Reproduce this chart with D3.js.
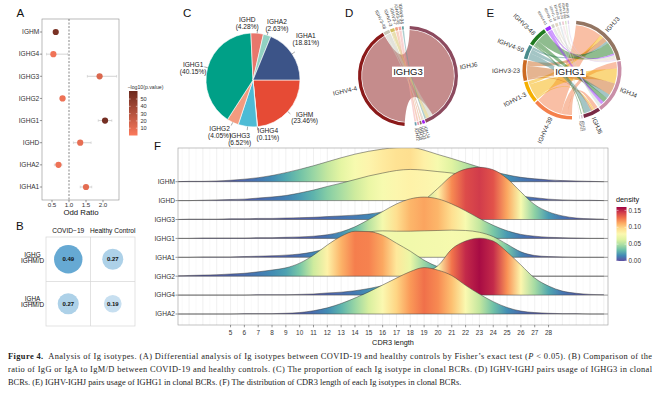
<!DOCTYPE html>
<html><head><meta charset="utf-8">
<script src="https://cdn.jsdelivr.net/npm/d3@7"></script>
<style>body{margin:0;background:#fff} svg{display:block;font-family:"Liberation Sans",Arial,sans-serif}</style>
</head><body><svg id="c" width="660" height="396"></svg>
<script>
// ---------------- DATA ----------------
// Panel A
const isotypesA = ["IGHM","IGHG4","IGHG3","IGHG2","IGHG1","IGHD","IGHA2","IGHA1"];
const oddRatio  = [0.61,0.54,1.90,0.81,2.06,1.33,0.69,1.50];
const ciLow     = [0.58,0.34,1.54,0.74,1.86,1.13,0.57,1.33];
const ciHigh    = [0.64,0.96,2.40,0.88,2.26,1.65,0.79,1.67];
const negLogP   = [55,5,14,6,57,9,6,10];
const oddTicks  = [0.5,1.0,1.5,2.0];
const pLegendTicks = [10,20,30,40,50];
// Panel B
const ratioRows = ["IGHG","IGHA"];
const ratioCols = ["COVID\u221219","Healthy Control"];
const ratioValues = [[0.49,0.27],[0.27,0.19]];
// Panel C
const pieLabels  = ["IGHM","IGHG4","IGHG3","IGHG2","IGHG1","IGHD","IGHA2","IGHA1"];
const piePercent = [23.46,0.11,6.52,4.05,40.15,4.28,2.63,18.81];
const pieColors  = ["#E64B35","#8491B4","#4DBBD5","#F39B7F","#00A087","#E8776C","#91D1C2","#3C5488"];
// Panel D (IGHG3)
const dJGenes = ["IGHJ6","IGHJ4","IGHJ3","IGHJ5","IGHJ2"];
const dVGenes = ["IGHV4-4","IGHV3-48","IGHV1-3","IGHV3-7","IGHV3-30","IGHV4-34"];
const dLinks = [["IGHV4-4","IGHJ6",143],["IGHV3-48","IGHJ6",5],["IGHV3-48","IGHJ4",2],
  ["IGHV1-3","IGHJ6",4],["IGHV1-3","IGHJ3",1],["IGHV3-7","IGHJ5",2],["IGHV3-7","IGHJ4",1],
  ["IGHV3-30","IGHJ2",2],["IGHV3-30","IGHJ3",1],["IGHV4-34","IGHJ6",2]];
const dColors = {"IGHJ6":"#8C4A5E","IGHJ4":"#A020F0","IGHJ3":"#8B6F60","IGHJ5":"#E8A0B0","IGHJ2":"#6A9FB0",
  "IGHV4-4":"#8B1A1A","IGHV3-48":"#C8C8B8","IGHV1-3":"#D4C060","IGHV3-7":"#F0A080","IGHV3-30":"#F4A4A4","IGHV4-34":"#5F9EA0"};
// Panel E (IGHG1)
const eJGenes = ["IGHJ3","IGHJ4","IGHJ6","IGHJ5","IGHJ2"];
const eVGenes = ["IGHV4-39","IGHV1-3","IGHV3-23","IGHV4-59","IGHV3-48","IGHV4-61","IGHV3-11","IGHV1-18","IGHV3-21","IGHV3-74","IGHV1-69","IGHV3-15"];
const eLinks = [["IGHV4-39","IGHJ3",32],["IGHV4-39","IGHJ4",8],["IGHV4-39","IGHJ6",5],
  ["IGHV1-3","IGHJ4",18],["IGHV1-3","IGHJ3",4],["IGHV1-3","IGHJ6",2],
  ["IGHV3-23","IGHJ4",15],["IGHV3-23","IGHJ3",6],["IGHV3-23","IGHJ6",2],
  ["IGHV4-59","IGHJ6",8],["IGHV4-59","IGHJ4",5],["IGHV4-59","IGHJ3",3],
  ["IGHV3-48","IGHJ3",14],["IGHV3-48","IGHJ4",6],["IGHV3-48","IGHJ6",1],["IGHV3-48","IGHJ5",1],
  ["IGHV4-61","IGHJ4",4],["IGHV4-61","IGHJ3",2],["IGHV3-11","IGHJ3",2],["IGHV3-11","IGHJ4",1],
  ["IGHV1-18","IGHJ3",2],["IGHV1-18","IGHJ6",1],["IGHV3-21","IGHJ4",2],
  ["IGHV3-74","IGHJ3",1.5],["IGHV3-74","IGHJ2",0.5],["IGHV1-69","IGHJ4",1],["IGHV1-69","IGHJ5",0.5],
  ["IGHV3-15","IGHJ3",1.5]];
const eColors = {"IGHJ3":"#937562","IGHJ4":"#C98FA8","IGHJ6":"#7A2A45","IGHJ5":"#D8C0D0","IGHJ2":"#BBBBBB",
  "IGHV4-39":"#F4804C","IGHV1-3":"#F5B000","IGHV3-23":"#CC6A22","IGHV4-59":"#4A8C8C","IGHV3-48":"#1F7A1F",
  "IGHV4-61":"#9B30FF","IGHV3-11":"#D0D0C8","IGHV1-18":"#E0D6C0","IGHV3-21":"#C8D6DC","IGHV3-74":"#F0CCD6",
  "IGHV1-69":"#D4E6C4","IGHV3-15":"#DCCCEE"};
// Panel F
const ridgeNames = ["IGHM","IGHD","IGHG3","IGHG1","IGHA1","IGHG2","IGHG4","IGHA2"];
const cdr3Lengths = [1,2,3,4,5,6,7,8,9,10,11,12,13,14,15,16,17,18,19,20,21,22,23,24,25,26,27,28,29,30,31,32];
const densIGHM  = [0.000,0.001,0.001,0.002,0.004,0.007,0.011,0.017,0.025,0.034,0.044,0.055,0.066,0.076,0.084,0.090,0.094,0.095,0.087,0.075,0.064,0.052,0.040,0.028,0.019,0.012,0.008,0.005,0.003,0.002,0.001,0.000];
const densIGHD  = [0.000,0.000,0.001,0.002,0.003,0.004,0.007,0.010,0.014,0.021,0.029,0.039,0.048,0.058,0.068,0.076,0.083,0.086,0.084,0.080,0.076,0.069,0.055,0.039,0.023,0.013,0.008,0.004,0.002,0.001,0.001,0.000];
const densIGHG3 = [0.000,0.001,0.001,0.001,0.002,0.002,0.003,0.003,0.004,0.005,0.006,0.008,0.010,0.012,0.015,0.021,0.028,0.039,0.054,0.086,0.121,0.139,0.144,0.137,0.113,0.076,0.041,0.021,0.010,0.004,0.002,0.001];
const densIGHG1 = [0.000,0.000,0.001,0.001,0.001,0.001,0.002,0.002,0.003,0.004,0.006,0.010,0.018,0.032,0.052,0.074,0.095,0.109,0.114,0.109,0.095,0.076,0.055,0.036,0.021,0.011,0.006,0.003,0.002,0.001,0.000,0.000];
const densIGHA1 = [0.000,0.000,0.001,0.001,0.001,0.002,0.003,0.004,0.006,0.009,0.015,0.026,0.044,0.062,0.070,0.073,0.072,0.072,0.073,0.074,0.075,0.074,0.069,0.057,0.036,0.015,0.005,0.002,0.001,0.000,0.000,0.000];
const densIGHG2 = [0.001,0.002,0.003,0.004,0.006,0.008,0.012,0.017,0.023,0.036,0.058,0.086,0.110,0.124,0.123,0.113,0.091,0.069,0.044,0.026,0.015,0.009,0.005,0.003,0.001,0.001,0.000,0.000,0.000,0.000,0.000,0.000];
const densIGHG4 = [0.000,0.000,0.000,0.000,0.000,0.000,0.001,0.001,0.001,0.002,0.003,0.006,0.008,0.012,0.018,0.026,0.036,0.050,0.063,0.081,0.127,0.149,0.157,0.149,0.119,0.083,0.047,0.025,0.011,0.005,0.002,0.001];
const densIGHA2 = [0.000,0.000,0.000,0.000,0.000,0.001,0.001,0.001,0.002,0.004,0.009,0.017,0.029,0.044,0.061,0.080,0.099,0.117,0.128,0.121,0.106,0.079,0.055,0.034,0.018,0.008,0.004,0.002,0.001,0.001,0.000,0.000];
const cdr3Ticks = [5,6,7,8,9,10,11,12,13,14,15,16,17,18,19,20,21,22,23,24,25,26,27,28];
const densityTicks = [0.00,0.05,0.10,0.15];

// ---------------- DRAW ----------------
const svg = d3.select("#c");
svg.append("rect").attr("width",660).attr("height",396).attr("fill","#fff");
const ink = "#333";

[["A",16.5,16.7],["B",16,230],["C",183,16.7],["D",345,16.7],["E",486.5,16.7],["F",154,150]].forEach(([t,x,y])=>
  svg.append("text").attr("x",x).attr("y",y).attr("font-size",11.5).attr("fill","#111").text(t));

// ===== Panel A =====
(function(){
  const g = svg.append("g");
  const x = d3.scaleLinear().domain([0.5,2.0]).range([52,103]);
  const y = d3.scalePoint().domain(isotypesA).range([32,187]);
  const col = d3.scaleLinear().domain([0,61]).range(["#fc7a5c","#6c2a1f"]);
  g.append("rect").attr("x",42).attr("y",19).attr("width",77).attr("height",181)
    .attr("fill","#fff").attr("stroke","#8c8c8c").attr("stroke-width",0.6);
  g.append("line").attr("x1",x(1)).attr("x2",x(1)).attr("y1",19).attr("y2",200)
    .attr("stroke","#555").attr("stroke-width",0.7).attr("stroke-dasharray","2,1.5");
  isotypesA.forEach((k,i)=>{
    const yy = y(k);
    g.append("line").attr("x1",x(ciLow[i])).attr("x2",x(ciHigh[i])).attr("y1",yy).attr("y2",yy)
      .attr("stroke","#c8c8c8").attr("stroke-width",0.8);
    [ciLow[i],ciHigh[i]].forEach(v=>g.append("line").attr("x1",x(v)).attr("x2",x(v)).attr("y1",yy-1.3).attr("y2",yy+1.3)
      .attr("stroke","#c8c8c8").attr("stroke-width",0.6));
    g.append("circle").attr("cx",x(oddRatio[i])).attr("cy",yy).attr("r",3.1).attr("fill",col(negLogP[i]));
    g.append("line").attr("x1",39.8).attr("x2",42).attr("y1",yy).attr("y2",yy).attr("stroke",ink).attr("stroke-width",0.5);
    g.append("text").attr("x",39.3).attr("y",yy).attr("dy","0.35em").attr("text-anchor","end")
      .attr("font-size",6.6).attr("fill",ink).text(k);
  });
  oddTicks.forEach(v=>{
    g.append("line").attr("x1",x(v)).attr("x2",x(v)).attr("y1",200).attr("y2",202.2).attr("stroke",ink).attr("stroke-width",0.5);
    g.append("text").attr("x",x(v)).attr("y",207.3).attr("text-anchor","middle").attr("font-size",6.2).attr("fill",ink).text(v.toFixed(1));
  });
  g.append("text").attr("x",81).attr("y",215).attr("text-anchor","middle").attr("font-size",7.8).attr("fill","#111").text("Odd Ratio");
  // legend
  const ly = d3.scaleLinear().domain([0,61]).range([135.5,91]);
  const grad = svg.append("defs").append("linearGradient").attr("id","gA").attr("x1",0).attr("x2",0).attr("y1",1).attr("y2",0);
  [0,0.25,0.5,0.75,1].forEach(t=>grad.append("stop").attr("offset",t).attr("stop-color",col(61*t)));
  g.append("text").attr("x",127.5).attr("y",88.5).attr("font-size",5.2).attr("fill",ink).text("\u2212log10(p.value)");
  g.append("rect").attr("x",129).attr("y",ly(61)).attr("width",8.5).attr("height",ly(0)-ly(61)).attr("fill","url(#gA)");
  pLegendTicks.forEach(v=>{
    g.append("line").attr("x1",129).attr("x2",130.6).attr("y1",ly(v)).attr("y2",ly(v)).attr("stroke","#fff").attr("stroke-width",0.5);
    g.append("line").attr("x1",135.9).attr("x2",137.5).attr("y1",ly(v)).attr("y2",ly(v)).attr("stroke","#fff").attr("stroke-width",0.5);
    g.append("text").attr("x",140.5).attr("y",ly(v)).attr("dy","0.35em").attr("font-size",5.6).attr("fill",ink).text(v);
  });
})();

// ===== Panel B =====
(function(){
  const g = svg.append("g");
  const cx = d3.scaleBand().domain(ratioCols).range([46,135]);
  const cy = d3.scaleBand().domain(ratioRows).range([237,326]);
  const r = d3.scaleSqrt().domain([0,0.49]).range([0,14.2]);
  const col = d3.scaleLinear().domain([0.19,0.49]).range(["#c7dff0","#66a9d3"]);
  g.append("rect").attr("x",46).attr("y",237).attr("width",89).attr("height",89).attr("fill","#fff").attr("stroke","#d6d6d6").attr("stroke-width",0.7);
  g.append("line").attr("x1",cx(ratioCols[1])).attr("x2",cx(ratioCols[1])).attr("y1",237).attr("y2",326).attr("stroke","#d6d6d6").attr("stroke-width",0.7);
  g.append("line").attr("y1",cy(ratioRows[1])).attr("y2",cy(ratioRows[1])).attr("x1",46).attr("x2",135).attr("stroke","#d6d6d6").attr("stroke-width",0.7);
  ratioCols.forEach(c=>g.append("text").attr("x",cx(c)+cx.bandwidth()/2).attr("y",233).attr("text-anchor","middle")
    .attr("font-size",6.6).attr("fill","#111").text(c));
  ratioRows.forEach((rw,i)=>{
    const yc = cy(rw)+cy.bandwidth()/2;
    g.append("text").attr("x",32.5).attr("y",yc-2.6).attr("text-anchor","middle").attr("font-size",6.4).attr("fill","#111").text(rw);
    g.append("line").attr("x1",25.5).attr("x2",39.5).attr("y1",yc-1.7).attr("y2",yc-1.7).attr("stroke","#111").attr("stroke-width",0.5);
    g.append("text").attr("x",32.5).attr("y",yc+3.6).attr("text-anchor","middle").attr("font-size",6.4).attr("fill","#111").text("IGHM/D");
    ratioCols.forEach((c,j)=>{
      const v = ratioValues[i][j];
      const xc = cx(c)+cx.bandwidth()/2;
      g.append("circle").attr("cx",xc).attr("cy",yc).attr("r",r(v)).attr("fill",col(v));
      g.append("text").attr("x",xc).attr("y",yc).attr("dy","0.35em").attr("text-anchor","middle")
        .attr("font-size",6).attr("font-weight","bold").attr("fill","#111").text(v.toFixed(2));
    });
  });
})();

// ===== Panel C =====
(function(){
  const g = svg.append("g").attr("transform","translate(253,80)");
  const R = 47;
  const arcs = d3.pie().sort(null).value(d=>d).startAngle(Math.PI/2).endAngle(Math.PI/2+2*Math.PI)(piePercent);
  const arc = d3.arc().innerRadius(0).outerRadius(R);
  g.selectAll("path").data(arcs).join("path").attr("d",arc).attr("fill",(d,i)=>pieColors[i])
    .attr("stroke","#fff").attr("stroke-width",0.6);
  // label layout: angle nudge (deg) and radius
  const nudge = {IGHM:[-6,64],IGHG4:[-10,56],IGHG3:[6,61],IGHG2:[7,62],IGHG1:[-4,61],IGHD:[-11,57],IGHA2:[6,60],IGHA1:[-4,67]};
  arcs.forEach((d,i)=>{
    const mid = (d.startAngle+d.endAngle)/2;
    const [dn, rr] = nudge[pieLabels[i]];
    const a = mid + dn*Math.PI/180;
    const px = rr*Math.sin(a), py = -rr*Math.cos(a);
    g.append("line").attr("x1",R*Math.sin(mid)).attr("y1",-R*Math.cos(mid))
      .attr("x2",(R+3.5)*Math.sin(mid)).attr("y2",-(R+3.5)*Math.cos(mid)).attr("stroke","#555").attr("stroke-width",0.5);
    g.append("text").attr("x",px).attr("y",py-1.2).attr("text-anchor","middle").attr("font-size",6.6).attr("fill","#222").text(pieLabels[i]);
    g.append("text").attr("x",px).attr("y",py+5.6).attr("text-anchor","middle").attr("font-size",6.6).attr("fill","#222").text("("+piePercent[i].toFixed(2)+"%)");
  });
})();

// ===== Chord panels =====
function drawChord(o){
  const g = svg.append("g").attr("transform",`translate(${o.cx},${o.cy})`);
  const size = {};
  [...o.j, ...o.v].forEach(s=>size[s]=0);
  o.links.forEach(([v,j,val])=>{size[v]+=val; size[j]+=val;});
  const total = d3.sum(Object.values(size));
  const gaps = o.small*(o.j.length-1+o.v.length-1)+o.gapJV+o.gapVJ;
  const ang = d3.scaleLinear().domain([0,total]).range([0,360-gaps]);
  const sec = {};
  let a = o.start;
  o.j.forEach((s,i)=>{sec[s]={s:a,e:a+ang(size[s])}; sec[s].cur=a; a=sec[s].e+(i<o.j.length-1?o.small:o.gapJV);});
  o.v.forEach((s,i)=>{sec[s]={s:a,e:a+ang(size[s])}; sec[s].cur=a; a=sec[s].e+o.small;});
  const seg = o.links.map(l=>({v:l[0],j:l[1],val:l[2]}));
  const vI = s=>o.v.indexOf(s), jI = s=>o.j.indexOf(s);
  o.j.forEach(j=>seg.filter(d=>d.j===j).sort((p,q)=>vI(p.v)-vI(q.v)).forEach(d=>{d.t0=sec[j].cur; sec[j].cur+=ang(d.val); d.t1=sec[j].cur;}));
  o.v.forEach(v=>seg.filter(d=>d.v===v).sort((p,q)=>jI(q.j)-jI(p.j)).forEach(d=>{d.s0=sec[v].cur; sec[v].cur+=ang(d.val); d.s1=sec[v].cur;}));
  const rad = Math.PI/180;
  const ribbon = d3.ribbon().radius(o.rRib);
  seg.forEach(d=>{
    g.append("path").attr("d",ribbon({source:{startAngle:d.s0*rad,endAngle:d.s1*rad},target:{startAngle:d.t0*rad,endAngle:d.t1*rad}}))
      .attr("fill",o.colors[d.v]).attr("fill-opacity",0.5);
  });
  const arc = d3.arc().innerRadius(o.rOut-o.thick).outerRadius(o.rOut);
  Object.keys(sec).forEach(s=>{
    g.append("path").attr("d",arc({startAngle:sec[s].s*rad,endAngle:sec[s].e*rad})).attr("fill",o.colors[s]);
    const m = (sec[s].s+sec[s].e)/2;
    const rr = o.rOut+2.5;
    const px = rr*Math.sin(m*rad), py = -rr*Math.cos(m*rad);
    const right = (m%360) < 180;
    const rot = right ? m-90 : m+90;
    const fs = (sec[s].e-sec[s].s) < 9 ? o.fsSmall : o.fs;
    g.append("text").attr("transform",`translate(${px},${py}) rotate(${rot})`).attr("dy","0.35em")
      .attr("text-anchor", right ? "start":"end").attr("font-size",fs).attr("fill","#333").text(s);
  });
  const t = g.append("text").attr("x",o.lx).attr("y",o.ly).attr("dy","0.35em").attr("text-anchor","middle")
    .attr("font-size",9.5).attr("fill","#111").text(o.center);
  const bb = t.node().getBBox();
  g.insert("rect", () => t.node()).attr("x",bb.x-1.2).attr("y",bb.y+0.3).attr("width",bb.width+2.4).attr("height",bb.height-0.6).attr("fill","#fff");
}
drawChord({cx:408,cy:76,rOut:50,thick:3.3,rRib:46,j:dJGenes,v:dVGenes,links:dLinks,colors:dColors,
  start:2,small:1,gapJV:12,gapVJ:7,center:"IGHG3",lx:0,ly:-4,fs:6.3,fsSmall:4.6});
drawChord({cx:572,cy:70,rOut:49.5,thick:3.6,rRib:45,j:eJGenes,v:eVGenes,links:eLinks,colors:eColors,
  start:5,small:1.5,gapJV:9,gapVJ:8.5,center:"IGHG1",lx:-2,ly:2,fs:6.3,fsSmall:3.5});

// ===== Panel F =====
(function(){
  const dens = {IGHM:densIGHM,IGHD:densIGHD,IGHG3:densIGHG3,IGHG1:densIGHG1,IGHA1:densIGHA1,IGHG2:densIGHG2,IGHG4:densIGHG4,IGHA2:densIGHA2};
  const x = d3.scaleLinear().domain([1.2,32.3]).range([178,608]);
  const y = d3.scalePoint().domain(ridgeNames).range([181.7,314]);
  const h = d3.scaleLinear().domain([0,0.16]).range([0,58]);
  const col = d3.scaleSequential(t=>d3.interpolateSpectral(1-t)).domain([0,0.16]);
  const g = svg.append("g");
  const defs = svg.append("defs");
  defs.append("clipPath").attr("id","fclip").append("rect").attr("x",178).attr("y",148).attr("width",430).attr("height",177);
  g.append("rect").attr("x",178).attr("y",148).attr("width",430).attr("height",177).attr("fill","#fff");
  const gridMinor = d3.range(1.5,32.5,1), gridMajor = d3.range(2,33,1);
  gridMinor.forEach(v=>g.append("line").attr("x1",x(v)).attr("x2",x(v)).attr("y1",148).attr("y2",325).attr("stroke","#f3f3f3").attr("stroke-width",0.5));
  gridMajor.forEach(v=>g.append("line").attr("x1",x(v)).attr("x2",x(v)).attr("y1",148).attr("y2",325).attr("stroke","#e6e6e6").attr("stroke-width",0.6));
  const pg = g.append("g").attr("clip-path","url(#fclip)");
  ridgeNames.forEach((name,k)=>{
    const base = y(name);
    const pts = cdr3Lengths.map((v,i)=>[v,dens[name][i]]);
    const gr = defs.append("linearGradient").attr("id","gr"+k).attr("gradientUnits","userSpaceOnUse")
      .attr("x1",x(cdr3Lengths[0])).attr("x2",x(cdr3Lengths[cdr3Lengths.length-1])).attr("y1",0).attr("y2",0);
    pts.forEach(([v,d])=>gr.append("stop").attr("offset",(v-cdr3Lengths[0])/(cdr3Lengths[cdr3Lengths.length-1]-cdr3Lengths[0])).attr("stop-color",col(d)));
    const area = d3.area().x(d=>x(d[0])).y0(base).y1(d=>base-h(d[1])).curve(d3.curveMonotoneX);
    const line = d3.line().x(d=>x(d[0])).y(d=>base-h(d[1])).curve(d3.curveMonotoneX);
    pg.append("path").attr("d",area(pts)).attr("fill",`url(#gr${k})`);
    pg.append("path").attr("d",line(pts)).attr("fill","none").attr("stroke","#3c3c3c").attr("stroke-width",0.5);
    pg.append("line").attr("x1",178).attr("x2",608).attr("y1",base).attr("y2",base).attr("stroke","#444").attr("stroke-width",0.55);
    g.append("line").attr("x1",175.5).attr("x2",178).attr("y1",base).attr("y2",base).attr("stroke",ink).attr("stroke-width",0.5);
    g.append("text").attr("x",175).attr("y",base).attr("dy","0.35em").attr("text-anchor","end").attr("font-size",6.6).attr("fill",ink).text(name);
  });
  g.append("rect").attr("x",178).attr("y",148).attr("width",430).attr("height",177).attr("fill","none").attr("stroke","#9a9a9a").attr("stroke-width",0.6);
  cdr3Ticks.forEach(v=>{
    g.append("line").attr("x1",x(v)).attr("x2",x(v)).attr("y1",325).attr("y2",327.3).attr("stroke",ink).attr("stroke-width",0.5);
    g.append("text").attr("x",x(v)).attr("y",334.8).attr("text-anchor","middle").attr("font-size",6.4).attr("fill",ink).text(v);
  });
  g.append("text").attr("x",393).attr("y",344.5).attr("text-anchor","middle").attr("font-size",7.3).attr("fill","#111").text("CDR3 length");
  // legend
  const ly = d3.scaleLinear().domain([0,0.16]).range([261,207]);
  const lg = defs.append("linearGradient").attr("id","gF").attr("x1",0).attr("x2",0).attr("y1",1).attr("y2",0);
  d3.range(0,1.0001,0.1).forEach(t=>lg.append("stop").attr("offset",t).attr("stop-color",col(0.16*t)));
  g.append("text").attr("x",616).attr("y",202).attr("font-size",7.3).attr("fill","#111").text("density");
  g.append("rect").attr("x",616.5).attr("y",207).attr("width",10).attr("height",54).attr("fill","url(#gF)");
  densityTicks.forEach(v=>{
    g.append("line").attr("x1",616.5).attr("x2",618.5).attr("y1",ly(v)).attr("y2",ly(v)).attr("stroke","#fff").attr("stroke-width",0.5);
    g.append("line").attr("x1",624.5).attr("x2",626.5).attr("y1",ly(v)).attr("y2",ly(v)).attr("stroke","#fff").attr("stroke-width",0.5);
    g.append("text").attr("x",628.5).attr("y",ly(v)).attr("dy","0.35em").attr("font-size",6.4).attr("fill",ink).text(v.toFixed(2));
  });
})();

// ===== Caption =====
(function(){
  const cf = "Liberation Serif, Times New Roman, serif";
  const t1 = svg.append("text").attr("x",8).attr("y",359).attr("font-family",cf).attr("font-size",8.4).attr("fill","#222")
    .attr("textLength",644).attr("lengthAdjust","spacing");
  t1.append("tspan").attr("font-weight","bold").text("Figure 4.");
  t1.append("tspan").text("\u2002Analysis of Ig isotypes. (A) Differential analysis of Ig isotypes between COVID-19 and healthy controls by Fisher\u2019s exact test (");
  t1.append("tspan").attr("font-style","italic").text("P");
  t1.append("tspan").text(" < 0.05). (B) Comparison of the");
  svg.append("text").attr("x",8).attr("y",372).attr("font-family",cf).attr("font-size",8.4).attr("fill","#222")
    .attr("textLength",644).attr("lengthAdjust","spacing")
    .text("ratio of IgG or IgA to IgM/D between COVID-19 and healthy controls. (C) The proportion of each Ig isotype in clonal BCRs. (D) IGHV-IGHJ pairs usage of IGHG3 in clonal");
  svg.append("text").attr("x",8).attr("y",385).attr("font-family",cf).attr("font-size",8.4).attr("fill","#222")
    .text("BCRs. (E) IGHV-IGHJ pairs usage of IGHG1 in clonal BCRs. (F) The distribution of CDR3 length of each Ig isotypes in clonal BCRs.");
})();
</script></body></html>
